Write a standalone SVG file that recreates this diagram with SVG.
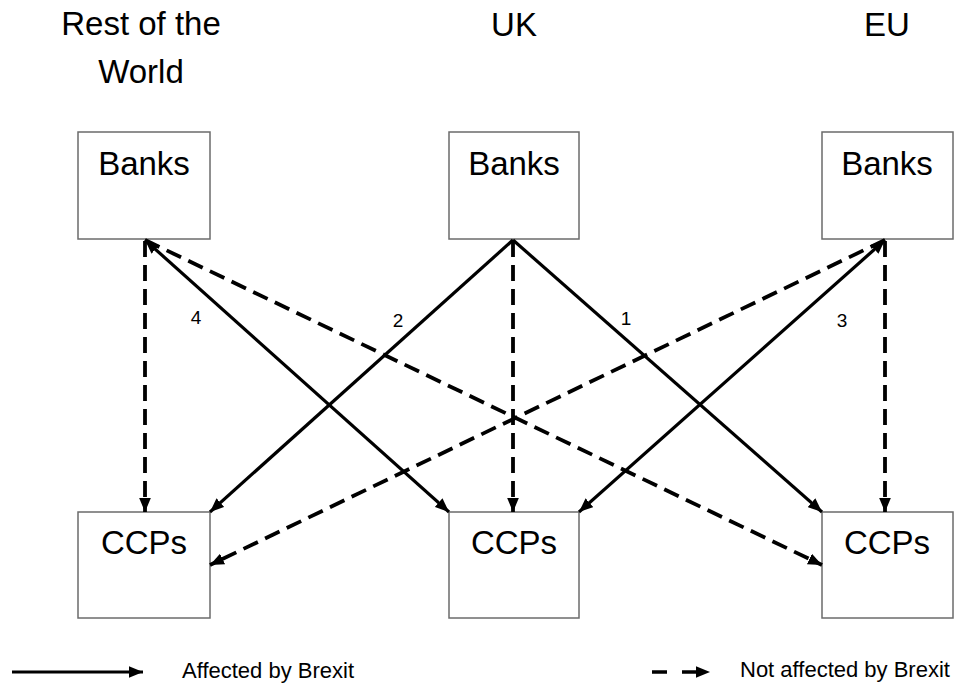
<svg xmlns="http://www.w3.org/2000/svg" width="971" height="683" viewBox="0 0 971 683">
<style>
.box{fill:#fff;stroke:#6b6b6b;stroke-width:1.5}
.lbl{font-family:"Liberation Sans",Arial,sans-serif;font-size:33px;fill:#000;text-anchor:middle}
.hdr{font-family:"Liberation Sans",Arial,sans-serif;font-size:33px;fill:#000;text-anchor:middle}
.num{font-family:"Liberation Sans",Arial,sans-serif;font-size:19px;fill:#000;text-anchor:middle}
.leg{font-family:"Liberation Sans",Arial,sans-serif;font-size:22px;fill:#000}
.solid{stroke:#000;stroke-width:3.2;fill:none}
.dash{stroke:#000;stroke-width:3.8;fill:none;stroke-dasharray:16 8}
</style>
<defs>
<marker id="ah" viewBox="0 0 12 10" refX="12" refY="5" markerWidth="14" markerHeight="12" markerUnits="userSpaceOnUse" orient="auto-start-reverse">
<path d="M0,0 L12,5 L0,10 Z" fill="#000"/>
</marker>
</defs>
<g id="headers">
<text class="hdr" x="141" y="35">Rest of the</text>
<text class="hdr" x="141" y="83">World</text>
<text class="hdr" x="514" y="36">UK</text>
<text class="hdr" x="887" y="36">EU</text>
</g>
<g id="row-banks"><rect class="box" x="78" y="132" width="132" height="107"/><text class="lbl" x="144" y="175">Banks</text></g>
<g id="uk-banks"><rect class="box" x="449" y="132" width="130" height="107"/><text class="lbl" x="514" y="175">Banks</text></g>
<g id="eu-banks"><rect class="box" x="822" y="132" width="131" height="107"/><text class="lbl" x="887" y="175">Banks</text></g>
<g id="row-ccps"><rect class="box" x="78" y="512" width="132" height="106"/><text class="lbl" x="144" y="554">CCPs</text></g>
<g id="uk-ccps"><rect class="box" x="449" y="512" width="130" height="106"/><text class="lbl" x="514" y="554">CCPs</text></g>
<g id="eu-ccps"><rect class="box" x="822" y="512" width="131" height="106"/><text class="lbl" x="887" y="554">CCPs</text></g>
<g id="connectors">
<line class="dash" x1="145" y1="241" x2="145" y2="512" marker-end="url(#ah)"/>
<line class="solid" x1="145" y1="240" x2="449" y2="512" marker-start="url(#ah)" marker-end="url(#ah)"/>
<line class="dash" x1="145" y1="240" x2="822" y2="565" marker-end="url(#ah)"/>
<line class="solid" x1="513" y1="240" x2="210" y2="512" marker-end="url(#ah)"/>
<line class="dash" x1="513" y1="241" x2="513" y2="512" marker-end="url(#ah)"/>
<line class="solid" x1="513" y1="240" x2="822" y2="512" marker-end="url(#ah)"/>
<line class="solid" x1="885" y1="240" x2="579" y2="512" marker-start="url(#ah)" marker-end="url(#ah)"/>
<line class="dash" x1="885" y1="241" x2="885" y2="512" marker-end="url(#ah)"/>
<line class="dash" x1="885" y1="240" x2="210" y2="565" marker-end="url(#ah)"/>
</g>
<g id="numbers">
<text class="num" x="196" y="324">4</text>
<text class="num" x="398" y="327">2</text>
<text class="num" x="626" y="325">1</text>
<text class="num" x="842" y="327">3</text>
</g>
<g id="legend">
<line class="solid" x1="12" y1="672" x2="143" y2="672" marker-end="url(#ah)"/>
<text class="leg" x="182" y="678">Affected by Brexit</text>
<line x1="652" y1="672" x2="710" y2="672" stroke="#000" stroke-width="3.5" stroke-dasharray="15 15" marker-end="url(#ah)"/>
<text class="leg" x="740" y="677">Not affected by Brexit</text>
</g>
</svg>
